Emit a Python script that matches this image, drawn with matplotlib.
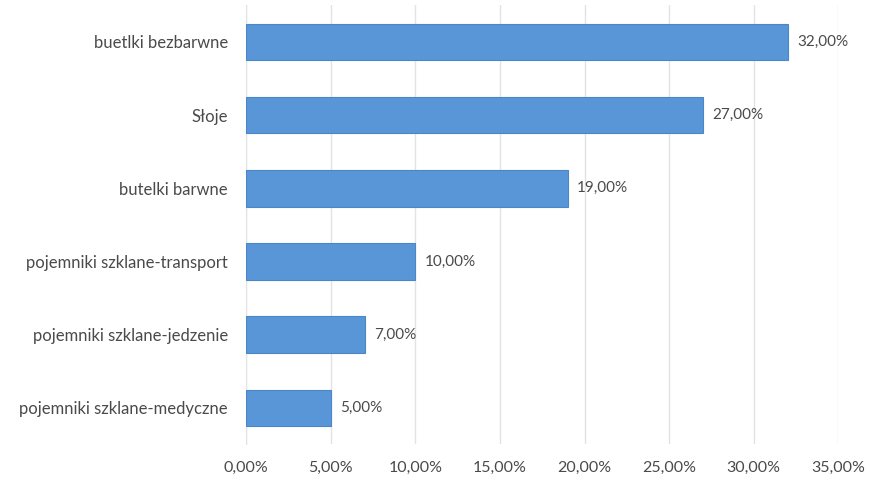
import matplotlib
matplotlib.use("Agg")
import matplotlib.pyplot as plt
from matplotlib.ticker import FuncFormatter

categories = [
    "buetlki bezbarwne",
    "Słoje",
    "butelki barwne",
    "pojemniki szklane-transport",
    "pojemniki szklane-jedzenie",
    "pojemniki szklane-medyczne",
]
values = [32.0, 27.0, 19.0, 10.0, 7.0, 5.0]
x_ticks = [0, 5, 10, 15, 20, 25, 30, 35]

plt.rcParams["font.family"] = ["Lato", "DejaVu Sans"]
text_color = "#4A4A4A"

fig = plt.figure(figsize=(8.76, 4.8), dpi=100)
ax = fig.add_axes([0.281, 0.074, 0.676, 0.915])

y = list(range(len(categories)))
ax.barh(y, values, height=0.5, color="#5896D8", edgecolor="#4A86C8", linewidth=0.8, zorder=3)
ax.set_ylim(len(categories) - 0.5, -0.5)
ax.set_yticks(y)
ax.set_yticklabels(categories)

ax.set_xlim(0, 35)
ax.set_xticks(x_ticks)
ax.xaxis.set_major_formatter(FuncFormatter(lambda v, p: f"{v:.2f}%".replace(".", ",")))

ax.grid(axis="x", color="#E3E3E3", linewidth=1, zorder=0)
for s in ["top", "right", "bottom"]:
    ax.spines[s].set_visible(False)
ax.spines["left"].set_color("#E3E3E3")
ax.tick_params(length=0, colors=text_color)
ax.tick_params(axis="y", pad=13, labelsize=12)
ax.tick_params(axis="x", pad=12, labelsize=11.5)

for yi, v in zip(y, values):
    ax.text(v + 0.55, yi, f"{v:.2f}%".replace(".", ","), va="center", ha="left",
            fontsize=11, color=text_color)

fig.savefig("out.png", dpi=100, facecolor="white")
